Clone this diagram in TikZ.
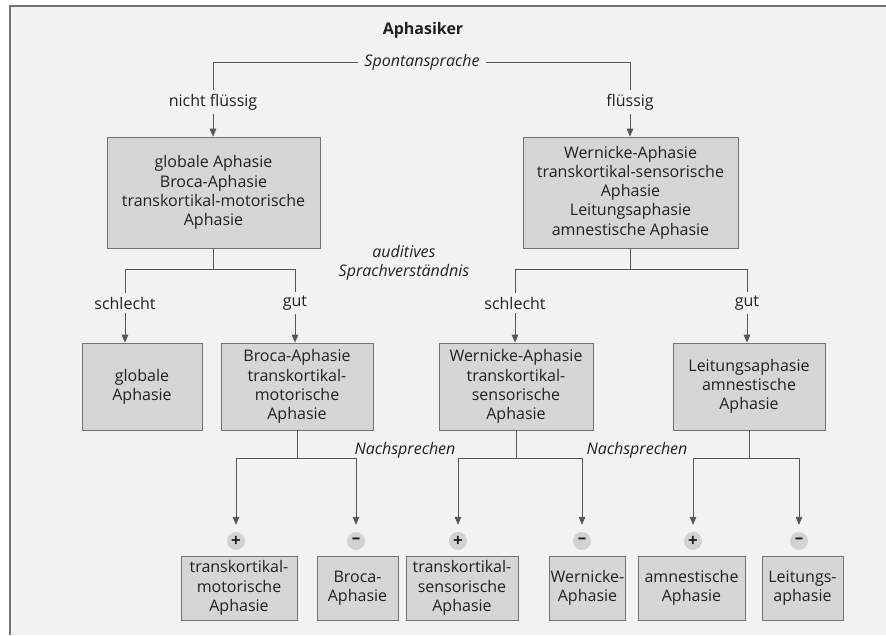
\documentclass[tikz,border=0pt]{standalone}
\usepackage{fontspec}
\setmainfont{Open Sans}
\usetikzlibrary{arrows}

\definecolor{paper}{gray}{0.95}
\definecolor{boxgray}{gray}{0.84}
\definecolor{rim}{gray}{0.45}
\definecolor{ink}{gray}{0.13}

\tikzset{
  aph/.style={draw=rim, fill=boxgray, line width=0.8pt, align=center,
    inner sep=1pt, text=ink, font=\fontsize{16}{19.3}\selectfont},
  cond/.style={fill=paper, inner sep=4pt, text=ink,
    font=\fontsize{16}{19.3}\selectfont},
  frage/.style={fill=paper, inner sep=6pt, text=ink, align=center,
    font=\fontsize{16}{19.3}\selectfont\itshape},
  sign/.style={circle, fill=gray!35, inner sep=0pt, minimum size=18pt,
    text=ink, font=\fontsize{17}{17}\selectfont\bfseries},
  zweig/.style={draw=rim!75!black, line width=0.8pt},
}

\begin{document}
\begin{tikzpicture}[x=1pt, y=-1pt, >=triangle 45]
  \useasboundingbox (0,0) rectangle (886,635);
  \fill[paper] (10,6) rectangle (886,635);
  \draw[rim, line width=1.2pt] (10,635) -- (10,6) -- (886,6);

  % Spontansprache
  \node[text=ink, font=\fontsize{16}{19.3}\selectfont\bfseries] (titel) at (423,30) {Aphasiker};
  \node[frage] (spont) at (422,62) {Spontansprache};
  \node[cond]  (nfl)   at (213,102) {nicht flüssig};
  \node[cond]  (fl)    at (630,102) {flüssig};

  \node[aph, minimum width=213pt, minimum height=111pt] (nfA) at (213.5,192.5)
    {globale Aphasie\\Broca-Aphasie\\transkortikal-motorische\\Aphasie};
  \node[aph, minimum width=215pt, minimum height=111pt] (flA) at (630.5,192.5)
    {Wernicke-Aphasie\\transkortikal-sensorische\\Aphasie\\Leitungsaphasie\\amnestische Aphasie};

  % auditives Sprachverstaendnis
  \node[frage, fill=none] (audi) at (404,263) {auditives\\Sprachverständnis};
  \node[cond] (schl1) at (125,303) {schlecht};
  \node[cond] (gut1)  at (295,303) {gut};
  \node[cond] (schl2) at (515,303) {schlecht};
  \node[cond] (gut2)  at (747,303) {gut};

  \node[aph, minimum width=120pt, minimum height=87pt] (glob) at (142,386.5)
    {globale\\Aphasie};
  \node[aph, minimum width=152pt, minimum height=87pt] (brtm) at (297,386.5)
    {Broca-Aphasie\\transkortikal-\\motorische\\Aphasie};
  \node[aph, minimum width=154pt, minimum height=87pt] (wets) at (516,386.5)
    {Wernicke-Aphasie\\transkortikal-\\sensorische\\Aphasie};
  \node[aph, minimum width=152pt, minimum height=87pt] (leam) at (749,386.5)
    {Leitungsaphasie\\amnestische\\Aphasie};

  % Nachsprechen
  \node[frage, fill=none] (nach1) at (405,450) {Nachsprechen};
  \node[frage, fill=none] (nach2) at (637,450) {Nachsprechen};

  \node[sign] (s1) at (236,541) {+};
  \node[sign] (s2) at (356,541) {\textendash};
  \node[sign] (s3) at (458,541) {+};
  \node[sign] (s4) at (582,541) {\textendash};
  \node[sign] (s5) at (693,541) {+};
  \node[sign] (s6) at (799,541) {\textendash};

  \node[aph, minimum width=116pt, minimum height=64pt] (tkm) at (239,588)
    {transkortikal-\\motorische\\Aphasie};
  \node[aph, minimum width=81pt, minimum height=64pt]  (bro) at (357.5,588)
    {Broca-\\Aphasie};
  \node[aph, minimum width=112pt, minimum height=64pt] (tks) at (462,588)
    {transkortikal-\\sensorische\\Aphasie};
  \node[aph, minimum width=71pt, minimum height=64pt]  (wer) at (587.5,588)
    {Wernicke-\\Aphasie};
  \node[aph, minimum width=107pt, minimum height=64pt] (amn) at (691.5,588)
    {amnestische\\Aphasie};
  \node[aph, minimum width=81pt, minimum height=64pt]  (lei) at (802.5,588)
    {Leitungs-\\aphasie};

  % Verbindungen
  \draw[zweig] (spont) -| (nfl);
  \draw[zweig] (spont) -| (fl);
  \draw[zweig,->] (nfl) -- (nfl |- nfA.north);
  \draw[zweig,->] (fl) -- (fl |- flA.north);

  \draw[zweig] (nfA.south) -- ++(0,21) -| (schl1);
  \draw[zweig] (nfA.south) -- ++(0,21) -| (gut1);
  \draw[zweig] (flA.south) -- ++(0,21) -| (schl2);
  \draw[zweig] (flA.south) -- ++(0,21) -| (gut2);
  \draw[zweig,->] (schl1) -- (schl1 |- glob.north);
  \draw[zweig,->] (gut1)  -- (gut1 |- brtm.north);
  \draw[zweig,->] (schl2) -- (schl2 |- wets.north);
  \draw[zweig,->] (gut2)  -- (gut2 |- leam.north);

  \draw[zweig,->,shorten >=7pt] (brtm.south) -- ++(0,28) -| (s1);
  \draw[zweig,->,shorten >=7pt] (brtm.south) -- ++(0,28) -| (s2);
  \draw[zweig,->,shorten >=7pt] (wets.south) -- ++(0,28) -| (s3);
  \draw[zweig,->,shorten >=7pt] (wets.south) -- ++(0,28) -| (s4);
  \draw[zweig,->,shorten >=7pt] (leam.south) -- ++(0,28) -| (s5);
  \draw[zweig,->,shorten >=7pt] (leam.south) -- ++(0,28) -| (s6);
\end{tikzpicture}
\end{document}
